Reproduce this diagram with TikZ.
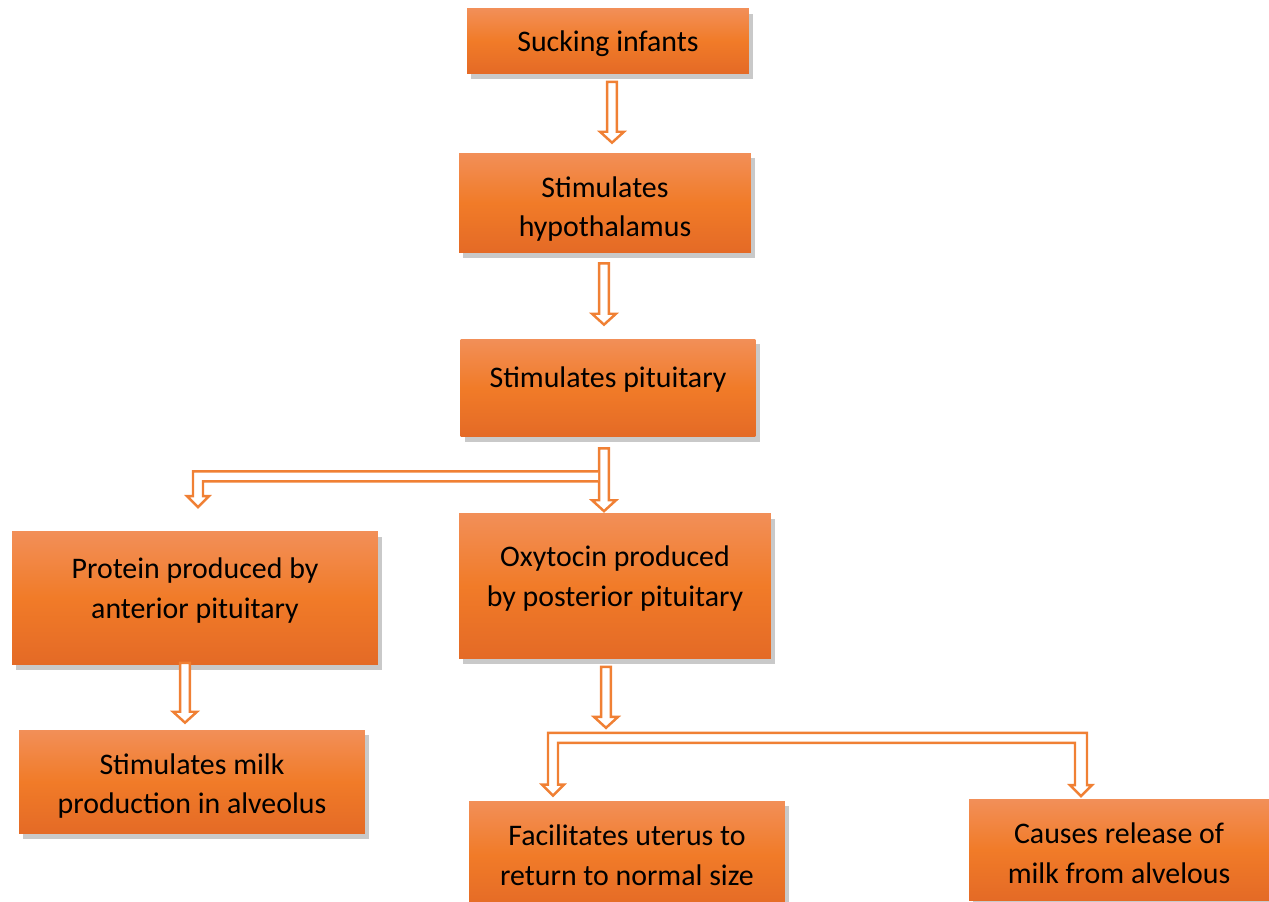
\documentclass[tikz,border=0pt]{standalone}
\usepackage{fontspec}
\setmainfont{Carlito}
\usetikzlibrary{calc,shadows}

\definecolor{boxtop}{RGB}{242,143,88}
\definecolor{boxmid}{RGB}{241,123,40}
\definecolor{boxbot}{RGB}{228,106,38}
\definecolor{arrowc}{RGB}{240,128,52}

\tikzset{
  box/.style={top color=boxtop, bottom color=boxbot, middle color=boxmid, inner sep=0pt,
    drop shadow={shadow xshift=2.5pt, shadow yshift=-3pt, opacity=0.3, fill=black!70}},
  txt/.style={align=center, inner sep=0pt, font=\fontsize{17}{22.7}\selectfont},
  hollow/.style={draw=arrowc, fill=white, line width=1.4pt, line join=miter}
}

% hollow down arrow: #1 start of shaft, #2 tip (x is taken from #1)
\newcommand{\hollowdown}[2]{%
  \draw[hollow] let \p1=#1, \p2=#2 in (\x1-2.8pt,\y1) -- (\x1+2.8pt,\y1) -- (\x1+2.8pt,\y2+6.2pt)
    -- (\x1+6.8pt,\y2+6.2pt) -- (\x1,\y2) -- (\x1-6.8pt,\y2+6.2pt) -- (\x1-2.8pt,\y2+6.2pt) -- cycle;}

\begin{document}
\begin{tikzpicture}[x=0.02cm, y=-0.02cm]
\useasboundingbox (0,0) rectangle (1269,902);
\clip (0,0) rectangle (1269,902);

% boxes
\node[box, minimum width=5.64cm, minimum height=1.3cm,
  label={[txt, name=suck-t, yshift=-0.06cm]center:Sucking infants}] (suck) at (608,41) {};
\node[box, minimum width=5.84cm, minimum height=2cm,
  label={[txt, name=hypo-t, yshift=-0.12cm]center:{Stimulates\\hypothalamus}}] (hypo) at (605,203) {};
\node[box, minimum width=5.9cm, minimum height=1.96cm,
  label={[txt, name=pit-t, yshift=0.16cm]center:Stimulates pituitary}] (pit) at (608,388) {};
\node[box, minimum width=7.32cm, minimum height=2.66cm,
  label={[txt, name=prot-t, yshift=0.15cm]center:{Protein produced by\\anterior pituitary}}] (prot) at (195,598) {};
\node[box, minimum width=6.24cm, minimum height=2.9cm,
  label={[txt, name=oxy-t, yshift=0.15cm]center:{Oxytocin produced\\by posterior pituitary}}] (oxy) at (615,586) {};
\node[box, minimum width=6.92cm, minimum height=2.08cm,
  label={[txt, name=milk-t, yshift=-0.08cm]center:{Stimulates milk\\production in alveolus}}] (milk) at (192,782) {};
\node[box, minimum width=6.32cm, minimum height=2.16cm,
  label={[txt, name=uterus-t]center:{Facilitates uterus to\\return to normal size}}] (uterus) at (627,855) {};
\node[box, minimum width=6cm, minimum height=2.02cm,
  label={[txt, name=release-t, yshift=-0.06cm]center:{Causes release of\\milk from alvelous}}] (release) at (1119,850) {};

% straight arrows
\hollowdown{($(suck.south)+(4,8)$)}{($(hypo.north)+(4,-10)$)}
\hollowdown{($(hypo.south)+(-1,10)$)}{($(pit.north)+(-1,-14)$)}
\hollowdown{($(pit.south)+(-4,11)$)}{($(oxy.north)+(-11,-2)$)}
\hollowdown{($(prot.south)+(-10,-2)$)}{($(milk.north)+(-10,-7)$)}
\hollowdown{($(oxy.south)+(-9,8)$)}{($(oxy.south)+(-9,69)$)}

% branch to the anterior pituitary
\coordinate (brR) at ($(pit.south)+(-10,39)$);
\coordinate (brL) at ($(prot.north)+(3,-24)$);
\coordinate (brC) at (brL |- brR);
\draw[hollow] ($(brR)+(0,-5)$) -- ($(brC)+(-5,-5)$) -- ($(brL)+(-5,-11)$) -- ($(brL)+(-11,-11)$) -- (brL)
  -- ($(brL)+(11,-11)$) -- ($(brL)+(5,-11)$) -- ($(brC)+(5,5)$) -- ($(brR)+(0,5)$);

% fork to uterus and milk release
\coordinate (fk) at ($(oxy.south)+(-9,74)$);
\coordinate (tuL) at ($(uterus.north)+(-74,-5)$);
\coordinate (tuR) at ($(release.north)+(-38,-3)$);
\coordinate (cL) at (tuL |- fk);
\coordinate (cR) at (tuR |- fk);
\draw[hollow] ($(cL)+(-5,0)$) -- ($(cR)+(6,0)$) -- ($(tuR)+(6,-11)$) -- ($(tuR)+(11,-11)$) -- (tuR)
  -- ($(tuR)+(-11,-11)$) -- ($(tuR)+(-6,-11)$) -- ($(cR)+(-6,10)$) -- ($(cL)+(5,10)$)
  -- ($(tuL)+(5,-11)$) -- ($(tuL)+(11,-11)$) -- (tuL) -- ($(tuL)+(-11,-11)$) -- ($(tuL)+(-5,-11)$) -- cycle;
\end{tikzpicture}
\end{document}
